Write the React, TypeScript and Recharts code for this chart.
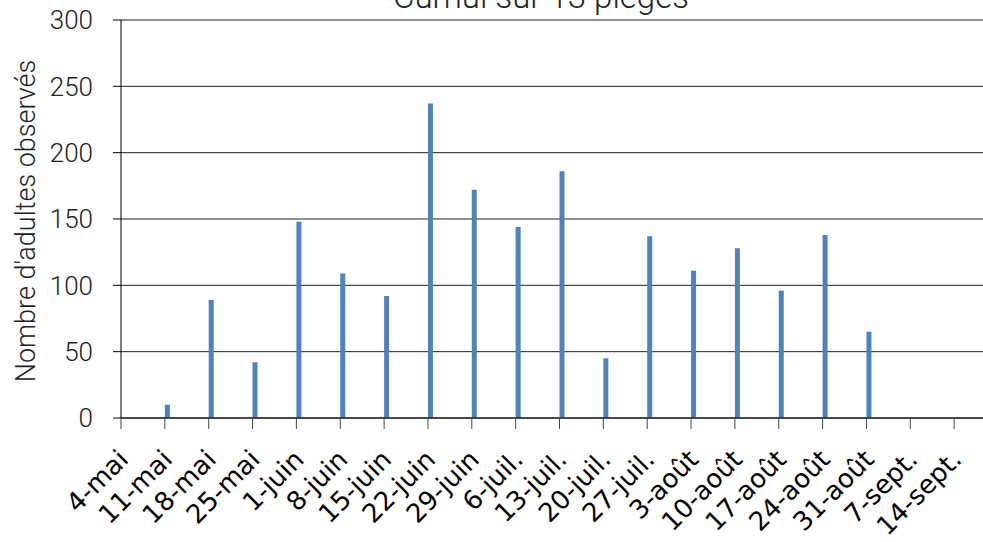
import React from 'react';
import { BarChart, Bar, XAxis, YAxis, CartesianGrid } from 'recharts';

// Relevés hebdomadaires, cumul sur 13 pièges
const semaines = [
  '4-mai', '11-mai', '18-mai', '25-mai', '1-juin', '8-juin', '15-juin', '22-juin', '29-juin', '6-juil.',
  '13-juil.', '20-juil.', '27-juil.', '3-août', '10-août', '17-août', '24-août', '31-août', '7-sept.', '14-sept.',
];
const adultes = [0, 10, 89, 42, 148, 109, 92, 237, 172, 144, 186, 45, 137, 111, 128, 96, 138, 65, 0, 0];
const yTicks = [0, 50, 100, 150, 200, 250, 300];

// empty series only reserve room in each band, like the source sheet
const ghostKeys = ['g1', 'g2', 'g3', 'g4', 'g5', 'g6', 'g7'];

const data = semaines.map((s, i) => ({ semaine: s, adultes: adultes[i] }));

const lightFont = 'Roboto, "Liberation Sans", sans-serif';

// label at the band centre, tick mark on the band's left edge
function XTick({ x, y, payload }: any) {
  const edge = x - (payload.offset || 0);
  const ax = x - 13;
  const ay = y + 41;
  return (
    <g>
      <line x1={edge} y1={y - 2} x2={edge} y2={y + 9} stroke="#444" />
      <text
        x={ax}
        y={ay}
        transform={`rotate(-45 ${ax} ${ay})`}
        textAnchor="end"
        fontFamily='"DejaVu Sans", sans-serif'
        fontSize={26}
        fill="#000"
      >
        {payload.value}
      </text>
    </g>
  );
}

export default function App() {
  return (
    <div style={{ position: 'absolute', left: 0, top: 0, width: 983, height: 542, overflow: 'hidden', background: '#fff' }}>
      <BarChart
        width={1000}
        height={542}
        data={data}
        margin={{ top: 20, right: 2, bottom: 0, left: 0 }}
        barCategoryGap={0}
        barGap={0}
      >
        <text x={541} y={8} textAnchor="middle" fontFamily={lightFont} fontWeight={300} fontSize={33} fill="#222">
          Cumul sur 13 pièges
        </text>
        <text
          x={35}
          y={221}
          transform="rotate(-90 35 221)"
          textAnchor="middle"
          fontFamily={lightFont}
          fontWeight={300}
          fontSize={27}
          fill="#222"
        >
          Nombre d'adultes observés
        </text>
        <CartesianGrid vertical={false} stroke="#222" strokeWidth={1} />
        <XAxis
          dataKey="semaine"
          interval={0}
          height={124}
          tickLine={false}
          tickSize={0}
          axisLine={{ stroke: '#000' }}
          tick={<XTick />}
        />
        <YAxis
          domain={[0, 300]}
          ticks={yTicks}
          width={121}
          tickSize={8}
          tickMargin={20}
          axisLine={{ stroke: '#000' }}
          tickLine={{ stroke: '#000' }}
          tick={{ fill: '#222', fontSize: 26, fontFamily: lightFont, fontWeight: 300 }}
        />
        <Bar dataKey="adultes" fill="#4f81bd" isAnimationActive={false} />
        {ghostKeys.map((k) => (
          <Bar key={k} dataKey={k} fill="none" isAnimationActive={false} />
        ))}
      </BarChart>
    </div>
  );
}
